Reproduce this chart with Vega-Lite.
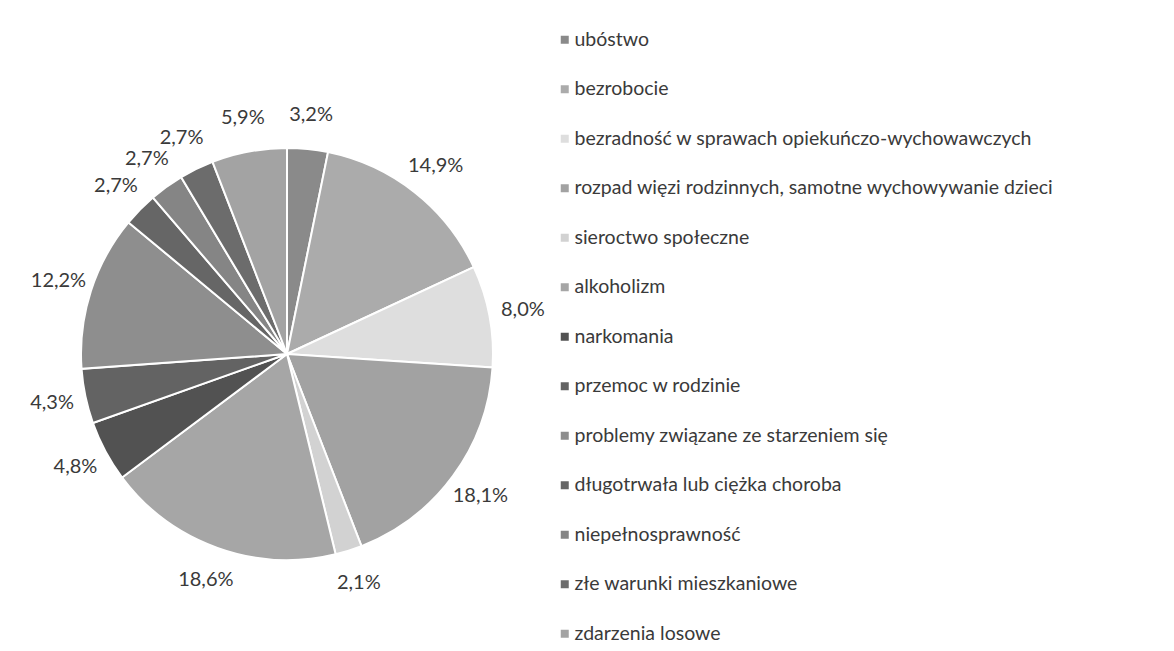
{
  "$schema": "https://vega.github.io/schema/vega-lite/v6.json",
  "autosize": "none",
  "width": 574,
  "height": 594,
  "padding": {"left": 0, "top": 57, "right": 600, "bottom": 0},
  "background": "white",
  "config": {
    "view": {"stroke": null},
    "locale": {"number": {"decimal": ",", "thousands": " ", "grouping": [3], "currency": ["", " zł"], "percent": "%"}},
    "font": "Lato"
  },
  "data": {
    "values": [
      {"i": 1, "kategoria": "ubóstwo", "udzial": 0.032},
      {"i": 2, "kategoria": "bezrobocie", "udzial": 0.149},
      {"i": 3, "kategoria": "bezradność w sprawach opiekuńczo-wychowawczych", "udzial": 0.080},
      {"i": 4, "kategoria": "rozpad więzi rodzinnych, samotne wychowywanie dzieci", "udzial": 0.181},
      {"i": 5, "kategoria": "sieroctwo społeczne", "udzial": 0.021},
      {"i": 6, "kategoria": "alkoholizm", "udzial": 0.186},
      {"i": 7, "kategoria": "narkomania", "udzial": 0.048},
      {"i": 8, "kategoria": "przemoc w rodzinie", "udzial": 0.043},
      {"i": 9, "kategoria": "problemy związane ze starzeniem się", "udzial": 0.122},
      {"i": 10, "kategoria": "długotrwała lub ciężka choroba", "udzial": 0.027},
      {"i": 11, "kategoria": "niepełnosprawność", "udzial": 0.027},
      {"i": 12, "kategoria": "złe warunki mieszkaniowe", "udzial": 0.027},
      {"i": 13, "kategoria": "zdarzenia losowe", "udzial": 0.059}
    ]
  },
  "encoding": {
    "theta": {"field": "udzial", "type": "quantitative", "stack": true},
    "order": {"field": "i", "type": "quantitative"}
  },
  "layer": [
    {
      "mark": {"type": "arc", "outerRadius": 206, "stroke": "white", "strokeWidth": 2},
      "encoding": {
        "color": {
          "field": "kategoria",
          "type": "nominal",
          "scale": {
            "domain": ["ubóstwo", "bezrobocie", "bezradność w sprawach opiekuńczo-wychowawczych", "rozpad więzi rodzinnych, samotne wychowywanie dzieci", "sieroctwo społeczne", "alkoholizm", "narkomania", "przemoc w rodzinie", "problemy związane ze starzeniem się", "długotrwała lub ciężka choroba", "niepełnosprawność", "złe warunki mieszkaniowe", "zdarzenia losowe"],
            "range": ["#8a8a8a", "#ababab", "#dedede", "#a2a2a2", "#d2d2d2", "#a6a6a6", "#525252", "#636363", "#8e8e8e", "#666666", "#858585", "#6c6c6c", "#a3a3a3"]
          },
          "legend": {
            "orient": "none",
            "legendX": 555,
            "legendY": -27,
            "title": null,
            "padding": 0,
            "symbolType": "square",
            "symbolSize": 64,
            "symbolStrokeWidth": 0,
            "labelFontSize": 19.5,
            "labelFont": "Lato",
            "labelColor": "#3a3a3a",
            "labelOffset": 0,
            "labelLimit": 0,
            "rowPadding": 28.5
          }
        }
      }
    },
    {
      "mark": {"type": "text", "radius": 240, "fontSize": 20, "font": "Lato", "color": "#3a3a3a", "align": "center", "baseline": "middle"},
      "encoding": {
        "text": {"field": "udzial", "type": "quantitative", "format": ".1%"}
      }
    }
  ]
}
